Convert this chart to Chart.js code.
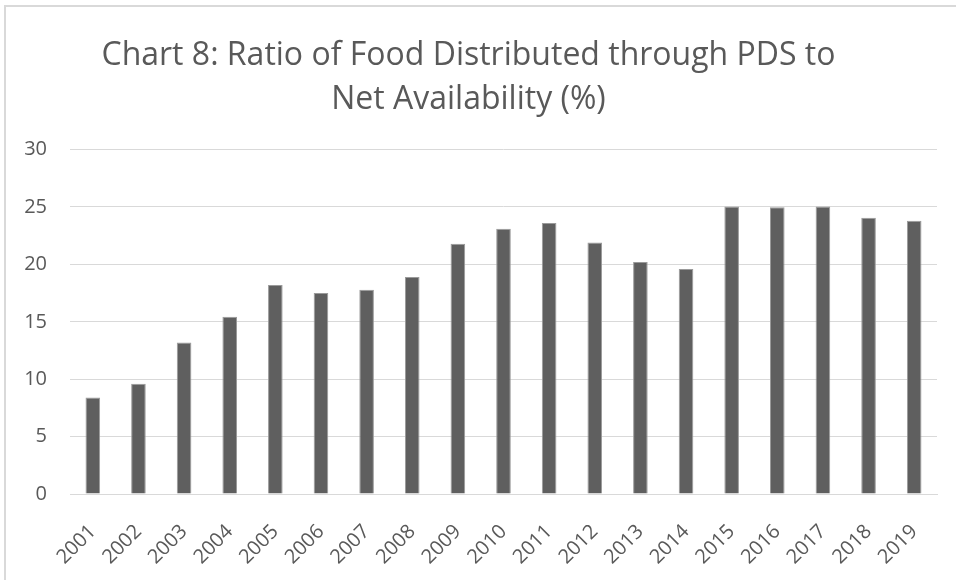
<!DOCTYPE html>
<html>
<head>
<meta charset="utf-8">
<script src="https://cdn.jsdelivr.net/npm/chart.js@4"></script>
<style>
  html, body { margin: 0; padding: 0; background: #fff; }
  #frame { position: absolute; left: 4px; top: 5px; width: 960px; height: 580px;
           border-top: 2px solid #d9d9d9; border-left: 2px solid #d9d9d9; }
  #wrap { position: absolute; left: 0; top: 0; width: 956px; height: 580px; }
</style>
</head>
<body>
<div id="frame"></div>
<div id="wrap"><canvas id="chart"></canvas></div>
<script>
// ----------------- Data -----------------
const years = ["2001", "2002", "2003", "2004", "2005", "2006", "2007", "2008", "2009", "2010",
               "2011", "2012", "2013", "2014", "2015", "2016", "2017", "2018", "2019"];
const ratio = [8.4, 9.6, 13.2, 15.45, 18.2, 17.5, 17.8, 18.9, 21.8, 23.1,
               23.6, 21.9, 20.2, 19.6, 25.05, 24.97, 25.05, 24.07, 23.8];
const yTicks = [0, 5, 10, 15, 20, 25, 30];
const titleLines = ["Chart 8: Ratio of Food Distributed through PDS to", "Net Availability (%)"];

// ----------------- Chart -----------------
const grey = "#595959";
const font = "'Open Sans', 'Noto Sans', sans-serif";

new Chart(document.getElementById("chart"), {
  type: "bar",
  data: {
    labels: years,
    datasets: [{
      data: ratio,
      backgroundColor: "#5f5f5f",
      borderColor: "#9a9a9a",
      borderWidth: 1,
      categoryPercentage: 1,
      barPercentage: 0.32
    }]
  },
  options: {
    responsive: true,
    maintainAspectRatio: false,
    animation: false,
    layout: { padding: { top: 27, right: 19, left: 0, bottom: 0 } },
    plugins: {
      legend: { display: false },
      tooltip: { enabled: false },
      title: {
        display: true,
        text: titleLines,
        color: grey,
        font: { family: font, size: 32, weight: "normal", lineHeight: 1.4 },
        padding: { top: 6, bottom: 27 }
      }
    },
    scales: {
      x: {
        grid: { display: false, drawTicks: false },
        border: { display: true, color: "#d9d9d9", width: 1 },
        ticks: {
          color: grey,
          font: { family: font, size: 20 },
          minRotation: 45,
          maxRotation: 45,
          padding: 26
        },
        afterFit: s => {
          s.height = 86;
          // rotated labels end at the tick, no extra side room needed
          s.paddingLeft = 0;
          s.paddingRight = 0;
        }
      },
      y: {
        min: 0,
        max: 30,
        afterBuildTicks: s => { s.ticks = yTicks.map(v => ({ value: v })); },
        grid: { color: "#d9d9d9", lineWidth: 1, drawTicks: false },
        border: { display: false },
        ticks: {
          color: grey,
          font: { family: font, size: 20 },
          padding: 23
        },
        afterFit: s => { s.width = 70; }
      }
    }
  }
});
</script>
</body>
</html>
